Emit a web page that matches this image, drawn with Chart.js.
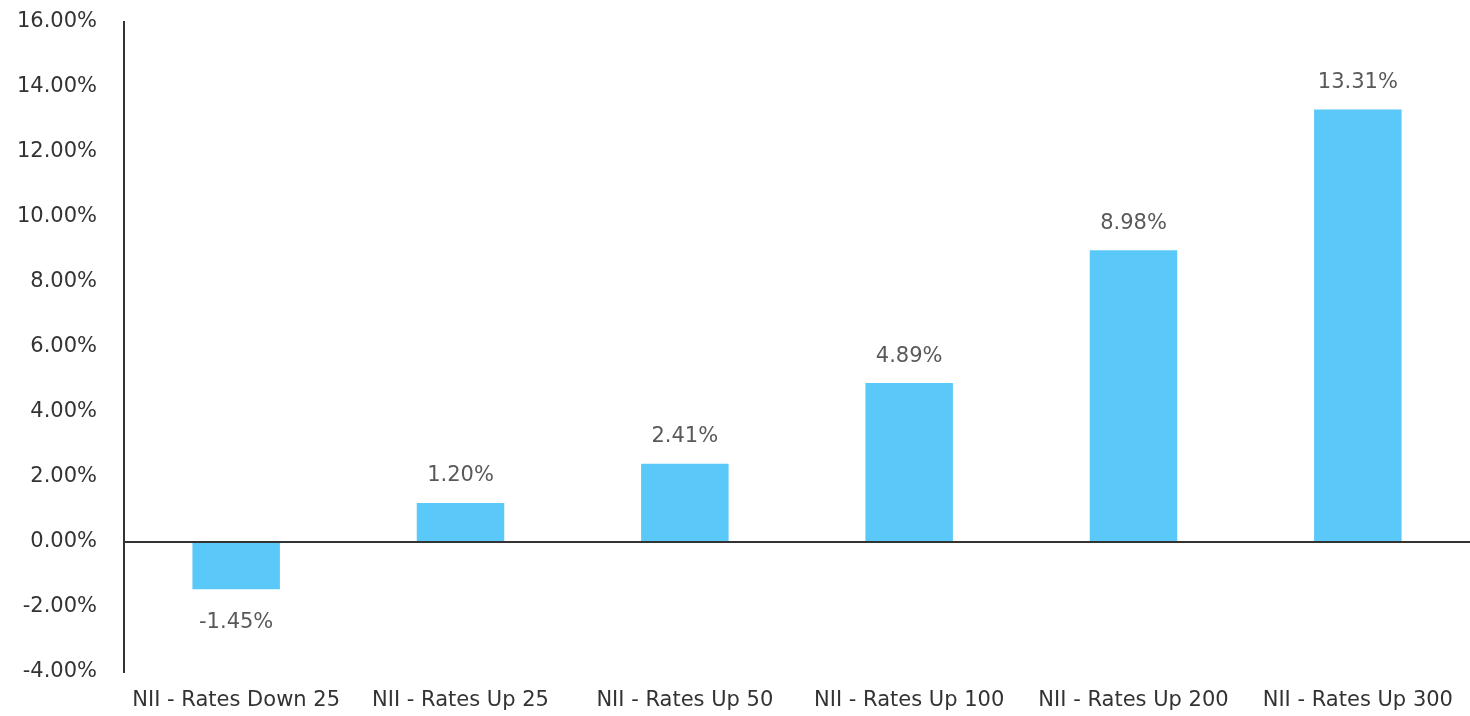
<!DOCTYPE html>
<html>
<head>
<meta charset="utf-8">
<script src="https://cdn.jsdelivr.net/npm/chart.js@4"></script>
<style>
html,body{margin:0;padding:0;background:#fff;}
#wrap{width:1470px;height:716px;position:relative;}
</style>
</head>
<body>
<div id="wrap"><canvas id="c"></canvas></div>
<script>
const categories = ["NII - Rates Down 25","NII - Rates Up 25","NII - Rates Up 50","NII - Rates Up 100","NII - Rates Up 200","NII - Rates Up 300"];
const values = [-1.45, 1.20, 2.41, 4.89, 8.98, 13.31];
const yMin = -4, yMax = 16, yStep = 2;

const FONT = "'DejaVu Sans', Verdana, sans-serif";

const labelPlugin = {
  id: 'valueLabels',
  afterDatasetsDraw(chart) {
    const ctx = chart.ctx;
    const meta = chart.getDatasetMeta(0);
    ctx.save();
    ctx.font = "21px " + FONT;
    ctx.fillStyle = "#595959";
    ctx.textAlign = "center";
    ctx.textBaseline = "middle";
    meta.data.forEach((el, i) => {
      const v = values[i];
      const txt = v.toFixed(2) + "%";
      const y = v >= 0 ? el.y - 27 : el.y + 33;
      ctx.fillText(txt, el.x, y);
    });
    ctx.restore();
  }
};

new Chart(document.getElementById('c'), {
  type: 'bar',
  data: {
    labels: categories,
    datasets: [{
      data: values,
      backgroundColor: '#5BC8FA',
      borderWidth: 0,
      barPercentage: 0.39,
      categoryPercentage: 1.0
    }]
  },
  options: {
    responsive: true,
    maintainAspectRatio: false,
    animation: false,
    devicePixelRatio: 1,
    layout: { padding: 0 },
    plugins: { legend: { display: false }, tooltip: { enabled: false } },
    scales: {
      x: {
        afterFit(scale) { scale.height = 44; scale.paddingLeft = 0; scale.paddingRight = 0; },
        grid: { display: false },
        border: { display: false },
        ticks: {
          color: '#333',
          font: { family: FONT, size: 21 },
          padding: 8,
          maxRotation: 0,
          autoSkip: false
        }
      },
      y: {
        min: yMin, max: yMax,
        afterFit(scale) { scale.width = 124; scale.paddingTop = 22; scale.paddingBottom = 0; },
        grid: {
          drawTicks: false,
          lineWidth: 2,
          color: (c) => (c.tick && c.tick.value === 0) ? '#333' : 'rgba(0,0,0,0)'
        },
        border: { display: true, color: '#333', width: 2 },
        ticks: {
          stepSize: yStep,
          padding: 27,
          color: '#333',
          font: { family: FONT, size: 21 },
          callback: (v) => Number(v).toFixed(2) + '%'
        }
      }
    }
  },
  plugins: [labelPlugin]
});
</script>
</body>
</html>
